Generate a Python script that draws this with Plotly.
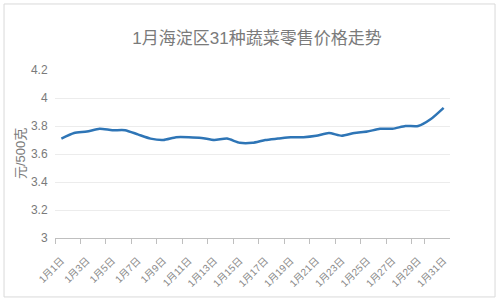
import plotly.graph_objects as go

days = [f"1月{d}日" for d in range(1, 32)]
prices = [3.71, 3.75, 3.76, 3.78, 3.77, 3.77, 3.74, 3.71, 3.70, 3.72,
          3.72, 3.715, 3.70, 3.71, 3.68, 3.68, 3.70, 3.71, 3.72, 3.72,
          3.73, 3.75, 3.73, 3.75, 3.76, 3.78, 3.78, 3.80, 3.80, 3.85, 3.93]
label_days = days[::2]
y_ticks = [3, 3.2, 3.4, 3.6, 3.8, 4, 4.2]

idx = list(range(1, len(days) + 1))
label_pos = idx[::2]

FONT = "Liberation Sans, Noto Sans CJK SC, sans-serif"
GRAY = "#7a7a7a"

fig = go.Figure()
fig.add_trace(go.Scatter(
    x=idx, y=prices, mode="lines",
    line=dict(color="#2E75B6", width=2.5, shape="spline", smoothing=0.6),
    hoverinfo="skip", showlegend=False,
))
# invisible trace for label axis
fig.add_trace(go.Scatter(x=idx, y=prices, xaxis="x2", mode="lines",
                         line=dict(width=0), opacity=0, showlegend=False, hoverinfo="skip"))

fig.update_layout(
    width=500, height=303,
    margin=dict(l=55, r=50, t=70, b=65),
    paper_bgcolor="white", plot_bgcolor="white",
    title=dict(text="1月海淀区31种蔬菜零售价格走势", x=0.514, xanchor="center",
               y=1 - 38 / 303, yanchor="middle",
               font=dict(family=FONT, size=17, color=GRAY)),
    xaxis=dict(range=[0.5, 31.5], tickmode="array",
               tickvals=[v - 0.5 for v in label_pos[:-1]] + [29.5],
               showticklabels=False, ticks="outside", ticklen=5, tickcolor="#bfbfbf",
               showgrid=False, showline=True, linecolor="#bfbfbf", linewidth=1,
               zeroline=False),
    xaxis2=dict(range=[0.5, 31.5], overlaying="x", side="bottom", tickmode="array",
                tickvals=label_pos, ticktext=label_days, tickangle=-45,
                ticks="outside", ticklen=12, tickcolor="rgba(0,0,0,0)",
                showgrid=False, showline=False, zeroline=False,
                tickfont=dict(family=FONT, size=10, color="#8a8a8a")),
    yaxis=dict(range=[3, 4.2], tickmode="array", tickvals=y_ticks,
               ticktext=["3", "3.2", "3.4", "3.6", "3.8", "4", "4.2"],
               showgrid=True, gridcolor="#ececec", gridwidth=1,
               zeroline=False, showline=False, ticks="outside", ticklen=4,
               tickcolor="rgba(0,0,0,0)",
               tickfont=dict(family=FONT, size=12, color=GRAY)),
    annotations=[dict(text="元/500克", x=-0.0886, y=0.5, xref="paper", yref="paper",
                      textangle=-90, showarrow=False, xanchor="center", yanchor="middle",
                      font=dict(family=FONT, size=13, color=GRAY))],
    shapes=[dict(type="rect", xref="paper", yref="paper",
                 x0=-0.129, x1=1.114, y0=-0.351, y1=1.393,
                 line=dict(color="#d9d9d9", width=1), fillcolor="rgba(0,0,0,0)",
                 layer="below")],
)

fig.write_html("out.html")
